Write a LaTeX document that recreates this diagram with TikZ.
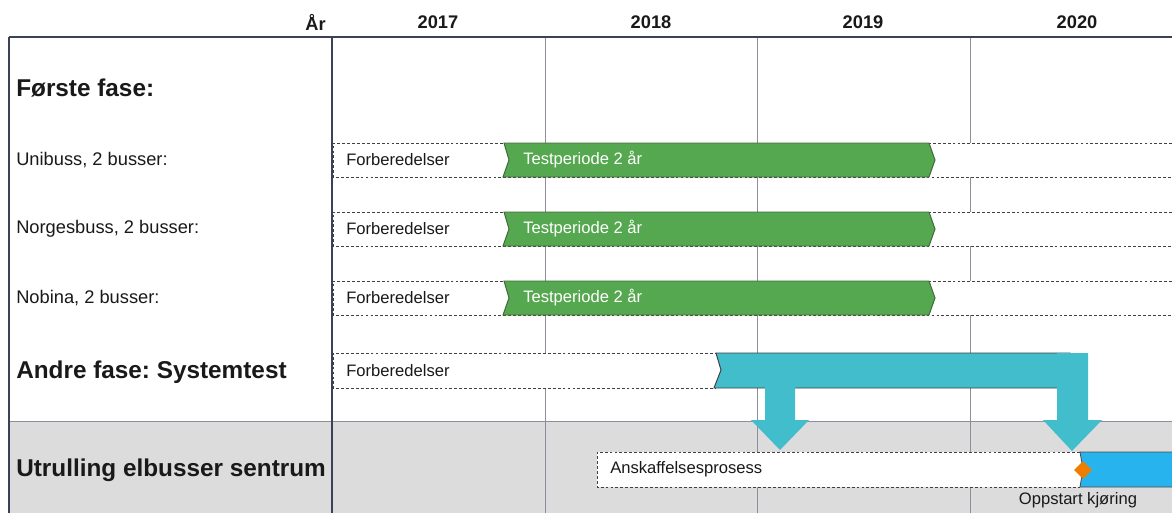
\documentclass[tikz,border=0pt]{standalone}
\usepackage{fontspec}
\setmainfont{Liberation Sans}
\usepackage{tikz}
\usetikzlibrary{shapes.geometric}
\frenchspacing
\definecolor{framecol}{HTML}{3B4255}
\definecolor{gridgray}{HTML}{8C8F99}
\definecolor{bandgray}{HTML}{DCDCDC}
\definecolor{testgreen}{HTML}{55A84F}
\definecolor{greenedge}{HTML}{3F6A3A}
\definecolor{tealbar}{HTML}{42BDCC}
\definecolor{skyblue}{HTML}{27B3EE}
\definecolor{msorange}{HTML}{EE7D00}

\begin{document}
\begin{tikzpicture}[x=0.025cm, y=-0.025cm]
        \tikzstyle{every node} = [inner sep=0pt, text=black!90]
        \tikzstyle{yearlabel} = [font=\fontsize{13}{15}\selectfont\bfseries]
        \tikzstyle{phase} = [anchor=west, font=\fontsize{17.3}{20}\selectfont\bfseries]
        \tikzstyle{company} = [anchor=west, font=\fontsize{13}{15}\selectfont]
        \tikzstyle{bartext} = [anchor=west, font=\fontsize{11.8}{14}\selectfont]
        \tikzstyle{dashline} = [draw=black!75, line width=0.6pt, dash pattern=on 2pt off 1.5pt]
        \tikzstyle{testbar} = [fill=testgreen, draw=greenedge, line width=0.7pt]
        \tikzstyle{gridrule} = [draw=gridgray, line width=0.7pt]
        \useasboundingbox (0,0) rectangle (1172,513);
        % grey band
        \fill[bandgray] (9,421) rectangle (1172,513);
        \draw[gridrule] (9,421) -- (1172,421);
        \foreach \x in {545,757,970}
            \draw[gridrule] (\x,37) -- (\x,513);
        % years
        \node[yearlabel, anchor=east] (aar) at (326,22) {År};
        \foreach \yr/\x in {2017/438, 2018/651, 2019/863, 2020/1077}
            \node[yearlabel] (y\yr) at (\x,22) {\yr};
        % first phase rows
        \node[phase] (first) at (16,88) {Første fase:};
        \foreach \id/\yc/\txt in {uni/160/{Unibuss, 2 busser:}, norges/229/{Norgesbuss, 2 busser:}, nobina/298/{Nobina, 2 busser:}} {
            \fill[white] (333,\yc-17) rectangle (1172,\yc+17);
            \draw[dashline] (1172,\yc-17) -- (333,\yc-17) -- (333,\yc+17) -- (1172,\yc+17);
            \draw[testbar] (504,\yc-17) -- (929,\yc-17) -- (935,\yc) -- (929,\yc+17) -- (503,\yc+17) -- (509,\yc) -- cycle;
            \node[company] (lbl\id) at (16,\yc) {\txt};
            \node[bartext] (prep\id) at (346,\yc) {Forberedelser};
            \node[bartext, text=white] (test\id) at (523,\yc) {Testperiode 2 år};
        }
        % second phase
        \node[phase] (second) at (16,372) {Andre fase: Systemtest};
        \fill[white] (333,353) rectangle (720,388);
        \draw[dashline] (718,353) -- (333,353) -- (333,388) -- (716,388);
        \draw[fill=tealbar, draw=black!75, line width=0.7pt] (716,353) -- (1070,353) -- (1070,388) -- (714,388) -- (721,370) -- cycle;
        \node[bartext] (prepsys) at (346,371) {Forberedelser};
        \fill[tealbar] (765,387) -- (795,387) -- (795,420) -- (809,420) -- (780,450) -- (751,420) -- (765,420) -- cycle;
        \fill[tealbar] (1057,353) -- (1088,353) -- (1088,420) -- (1102,420) -- (1072,451) -- (1043,420) -- (1057,420) -- cycle;
        % rollout
        \node[phase] (rollout) at (16,470) {Utrulling elbusser sentrum};
        \fill[white] (597,452) -- (1080,452) -- (1083,469) -- (1080,487) -- (597,487) -- cycle;
        \draw[dashline] (1080,452) -- (597,452) -- (597,487) -- (1080,487);
        \draw[fill=skyblue, draw=black!70, line width=0.6pt] (1172,452) -- (1080,452) -- (1083,469) -- (1080,487) -- (1172,487);
        \node[bartext] (procure) at (610,469) {Anskaffelsesprosess};
        \node[diamond, fill=msorange, minimum width=0.45cm, minimum height=0.45cm] (oppstart) at (1083,470) {};
        \node[font=\fontsize{11.8}{14}\selectfont] (oppstarttxt) at (1078,500) {Oppstart kjøring};
        % frame
        \draw[framecol, line width=1.6pt] (9,37) -- (1172,37);
        \draw[framecol, line width=1.4pt] (9,37) -- (9,513);
        \draw[framecol, line width=2pt] (332,37) -- (332,513);
    \end{tikzpicture}
\end{document}
